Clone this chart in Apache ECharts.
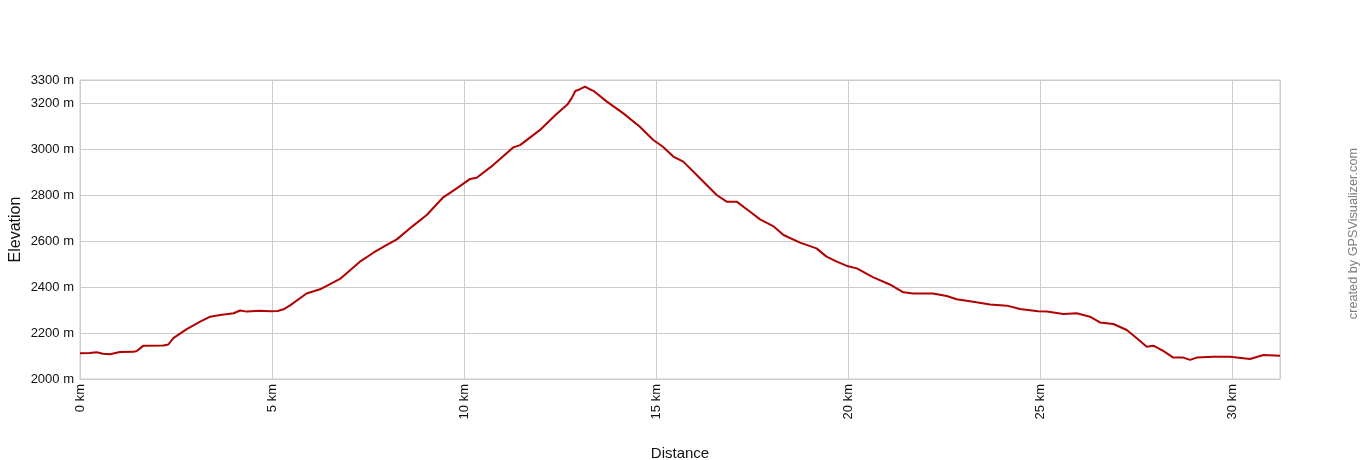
<!DOCTYPE html>
<html>
<head>
<meta charset="utf-8">
<script src="https://cdn.jsdelivr.net/npm/echarts@6/dist/echarts.min.js"></script>
<style>
html,body{margin:0;padding:0;background:#fff;}
#chart{width:1360px;height:460px;}
</style>
</head>
<body>
<div id="chart"></div>
<script>
// Distance (km) and elevation (m) read from the profile
const distanceKm = [0,0.25,0.43,0.6,0.78,1.04,1.39,1.48,1.65,2.17,2.3,2.43,2.78,3.13,3.39,3.65,4.0,4.17,4.34,4.69,4.95,5.15,5.3,5.47,5.9,6.25,6.77,7.29,7.64,7.99,8.25,8.68,9.03,9.46,9.81,10.16,10.33,10.76,11.28,11.46,11.98,12.41,12.7,12.8,12.9,13.02,13.15,13.25,13.37,13.72,14.15,14.58,14.93,15.18,15.45,15.71,16.15,16.58,16.84,17.1,17.45,17.71,18.05,18.32,18.75,19.18,19.44,19.71,20.0,20.23,20.66,21.09,21.44,21.7,22.21,22.57,22.83,23.26,23.7,24.14,24.48,24.95,25.18,25.61,25.96,26.3,26.56,26.91,27.26,27.52,27.78,27.95,28.21,28.47,28.73,28.91,29.08,29.51,29.95,30.47,30.82,31.25];
const elevationM = [2112,2113,2116,2110,2108,2117,2118,2122,2145,2146,2150,2178,2217,2249,2271,2278,2286,2298,2293,2297,2295,2296,2303,2320,2372,2390,2435,2510,2549,2583,2607,2667,2713,2790,2829,2870,2875,2930,3007,3017,3083,3152,3195,3220,3252,3260,3271,3262,3253,3206,3155,3097,3039,3010,2967,2945,2872,2800,2771,2771,2727,2694,2665,2626,2593,2568,2532,2510,2490,2481,2442,2411,2377,2372,2372,2361,2347,2336,2324,2319,2304,2295,2293,2283,2286,2271,2246,2239,2213,2177,2140,2145,2122,2093,2093,2083,2093,2097,2097,2087,2104,2101];
const xTicksKm = [0,5,10,15,20,25,30];
const xMax = 31.25;
const yMin = 2000, yMax = 3300, yStep = 200;

const points = distanceKm.map((d, i) => [d, elevationM[i]]);
const font = '"Liberation Sans", Arial, sans-serif';

const chart = echarts.init(document.getElementById('chart'), null, {renderer: 'canvas'});
chart.setOption({
  animation: false,
  backgroundColor: '#ffffff',
  grid: {left: 80, right: 80, top: 80, bottom: 81, containLabel: false, outerBoundsMode: 'none',
         show: true, borderColor: '#cccccc', borderWidth: 1},
  xAxis: {
    type: 'value', min: 0, max: xMax, interval: 5,
    name: 'Distance', nameLocation: 'middle', nameGap: 67, nameMoveOverlap: false,
    nameTextStyle: {fontFamily: font, fontSize: 15, color: '#111'},
    axisLine: {show: true, lineStyle: {color: '#cccccc'}},
    axisTick: {show: false},
    axisLabel: {
      rotate: 90, margin: 5, fontFamily: font, fontSize: 13, color: '#111',
      formatter: v => xTicksKm.includes(v) ? v + ' km' : ''
    },
    splitLine: {show: true, lineStyle: {color: '#cccccc', width: 1}}
  },
  yAxis: {
    type: 'value', min: yMin, max: yMax, interval: yStep,
    name: 'Elevation', nameLocation: 'middle', nameGap: 56, nameRotate: 90, nameMoveOverlap: false,
    nameTextStyle: {fontFamily: font, fontSize: 16, color: '#111'},
    axisLine: {show: true, lineStyle: {color: '#cccccc'}},
    axisTick: {show: false},
    axisLabel: {margin: 6, fontFamily: font, fontSize: 13, color: '#111', formatter: v => v + ' m'},
    splitLine: {show: true, lineStyle: {color: '#cccccc', width: 1}}
  },
  graphic: [{
    type: 'text', left: 1347, top: 148, rotation: Math.PI / 2,
    style: {text: 'created by GPSVisualizer.com', fill: '#808080', font: '12.7px ' + font}
  }],
  series: [{
    type: 'line', data: points, showSymbol: false, smooth: false,
    lineStyle: {color: '#b00000', width: 2},
    itemStyle: {color: '#b00000'}
  }]
});
</script>
</body>
</html>
